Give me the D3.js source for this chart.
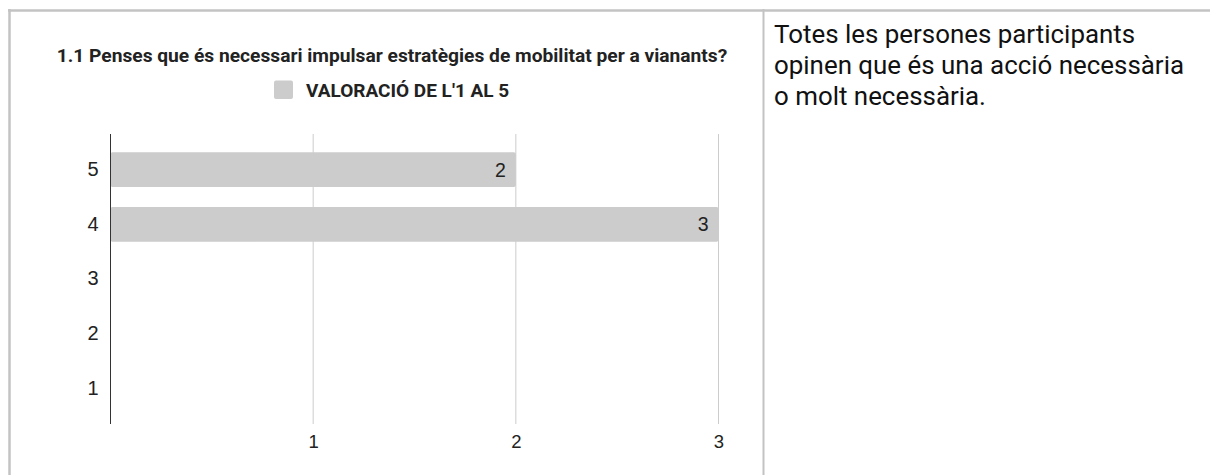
<!DOCTYPE html>
<html><head><meta charset="utf-8">
<script src="https://cdn.jsdelivr.net/npm/d3@7"></script>
<style>
html,body{margin:0;padding:0;background:#fff;}
svg{display:block;}
</style></head>
<body>
<svg id="c" width="1210" height="475"></svg>
<script>
const categories = ["5","4","3","2","1"];
const values = [2, 3, 0, 0, 0];
const xTicks = [1, 2, 3];
const title = "1.1 Penses que és necessari impulsar estratègies de mobilitat per a vianants?";
const legendLabel = "VALORACIÓ DE L'1 AL 5";
const noteLines = ["Totes les persones participants", "opinen que és una acció necessària", "o molt necessària."];

const svg = d3.select("#c");
const border = "#c3c3c3";

// table borders
svg.append("line").attr("x1",8).attr("x2",1210).attr("y1",10.5).attr("y2",10.5).attr("stroke",border).attr("stroke-width",2.5);
svg.append("line").attr("x1",9.5).attr("x2",9.5).attr("y1",9).attr("y2",475).attr("stroke",border).attr("stroke-width",2.5);
svg.append("line").attr("x1",763.5).attr("x2",763.5).attr("y1",9).attr("y2",475).attr("stroke",border).attr("stroke-width",2);

// chart
const x = d3.scaleLinear().domain([0,3]).range([110.5,718.5]);
const y = d3.scaleBand().domain(categories).range([134,424]).paddingInner(0.366).paddingOuter(0.333);

svg.append("text").attr("x",392).attr("y",62).attr("text-anchor","middle")
  .attr("font-family","Roboto").attr("font-weight","bold").attr("font-size",19.2).attr("fill","#222").text(title);

svg.append("rect").attr("x",274).attr("y",80.5).attr("width",19).attr("height",18.5).attr("rx",2).attr("fill","#cccccc");
svg.append("text").attr("x",306).attr("y",96.5).attr("font-family","Roboto").attr("font-weight","bold")
  .attr("font-size",19).attr("fill","#222").text(legendLabel);

// grid
svg.append("g").selectAll("line").data(xTicks).join("line")
  .attr("x1",d=>x(d)).attr("x2",d=>x(d)).attr("y1",134).attr("y2",424)
  .attr("stroke","#cccccc").attr("stroke-width",1);

// bars
svg.append("g").selectAll("rect").data(categories.map((c,i)=>({c,v:values[i]})).filter(d=>d.v>0)).join("rect")
  .attr("x",x(0)).attr("y",d=>y(d.c)).attr("width",d=>x(d.v)-x(0)).attr("height",y.bandwidth())
  .attr("rx",2).attr("fill","#cccccc");

svg.append("g").selectAll("text").data(categories.map((c,i)=>({c,v:values[i]})).filter(d=>d.v>0)).join("text")
  .attr("x",d=>x(d.v)-10).attr("y",d=>y(d.c)+y.bandwidth()/2).attr("dy","0.36em")
  .attr("text-anchor","end").attr("font-family","Liberation Sans, Arial").attr("font-size",19.5).attr("fill","#222")
  .text(d=>d.v);

// axis line
svg.append("line").attr("x1",x(0)).attr("x2",x(0)).attr("y1",134).attr("y2",424).attr("stroke","#333").attr("stroke-width",1);

// y labels
const yAxis = d3.axisLeft(y).tickSize(0).tickPadding(12);
const gy = svg.append("g").attr("transform",`translate(${x(0)},0)`).call(yAxis);
gy.select(".domain").remove();
gy.selectAll("text").attr("font-family","Liberation Sans, Arial").attr("font-size",20).attr("fill","#222");

// x labels
const xAxis = d3.axisBottom(x).tickValues(xTicks).tickSize(0).tickPadding(11).tickFormat(d3.format("d"));
const gx = svg.append("g").attr("transform","translate(0,424)").call(xAxis);
gx.select(".domain").remove();
gx.selectAll("text").attr("font-family","Liberation Sans, Arial").attr("font-size",18.5).attr("fill","#222");

// note
svg.append("g").selectAll("text").data(noteLines).join("text")
  .attr("x",774).attr("y",(d,i)=>43+i*31).attr("font-family","Roboto").attr("font-size",25.9).attr("fill","#111")
  .text(d=>d);
</script>
</body></html>
